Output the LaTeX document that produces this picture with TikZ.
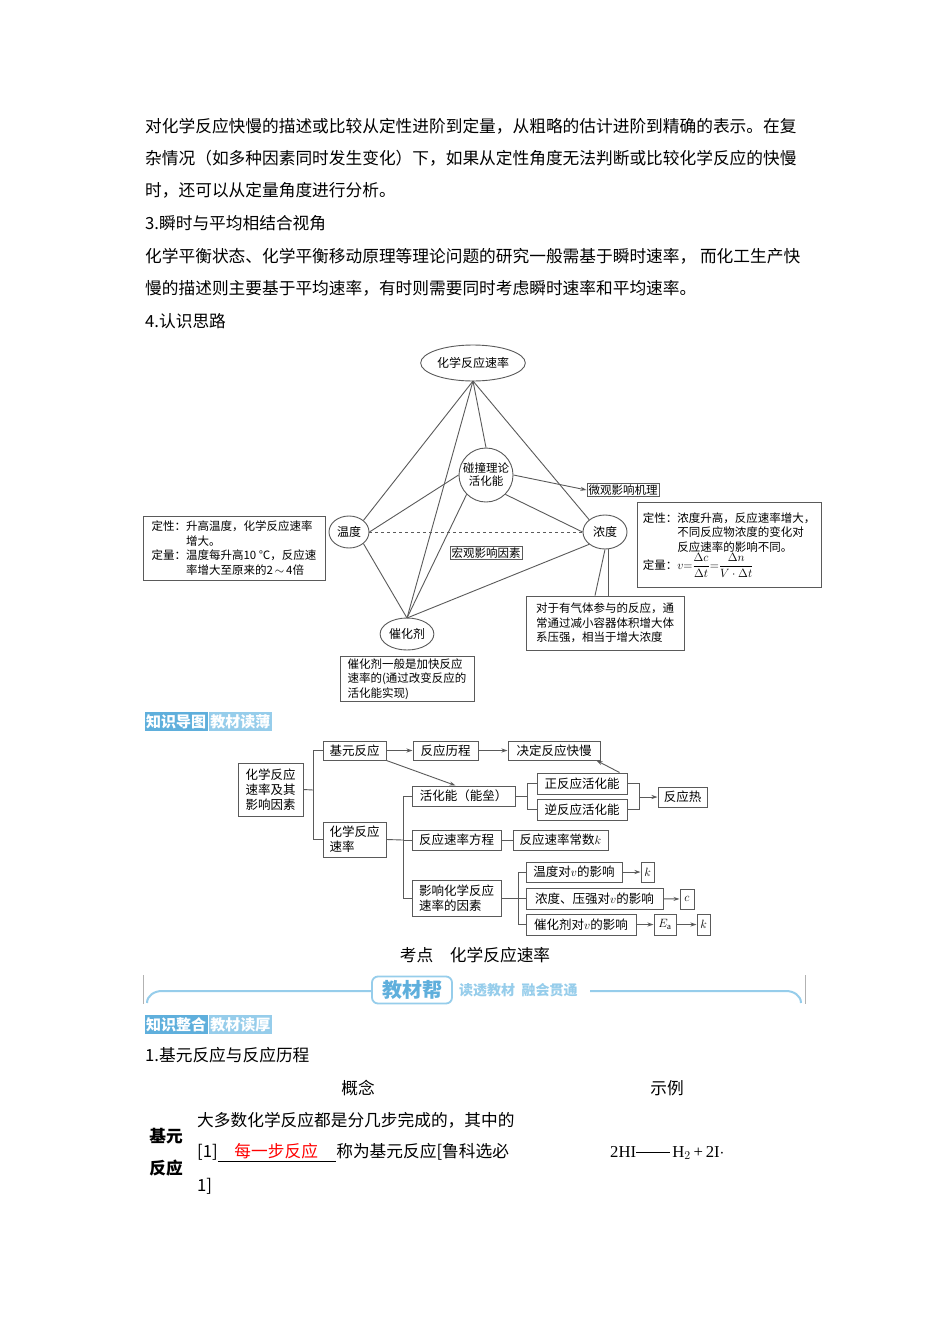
\documentclass[tikz,border=0pt]{standalone}
\usepackage{amsmath}
\usepackage{fontspec}
\setmainfont{Liberation Serif}
\newfontfamily\cjk{Noto Sans CJK SC}
\usetikzlibrary{arrows.meta,shapes.geometric}
\definecolor{bblue}{RGB}{95,175,220}
\definecolor{lblue}{RGB}{150,205,235}
\definecolor{gline}{RGB}{90,90,90}
\tikzset{
 body/.style={anchor=west,inner sep=0,font=\cjk\fontsize{16.7}{16.7}\selectfont},
 el/.style={ellipse,draw=gline,line width=0.9pt,inner sep=1pt,font=\cjk\fontsize{12}{13}\selectfont},
 tb/.style={draw=gline,line width=0.9pt,inner sep=2pt,font=\cjk\fontsize{11.5}{14.5}\selectfont,align=left},
 mb/.style={draw=gline,line width=1pt,inner sep=1pt,font=\cjk\fontsize{12.5}{16}\selectfont,align=left},
 ln/.style={gline,line width=0.9pt},
 ar/.style={gline,line width=0.9pt,-{Stealth[length=6pt,width=4pt]}},
 badge/.style={text=white,inner sep=1.5pt,minimum height=19,font=\cjk\bfseries\fontsize{15}{15}\selectfont},
}
\begin{document}
\begin{tikzpicture}[x=1pt,y=-1pt]
\useasboundingbox[fill=white] (0,0) rectangle (950,1344);
% body text
\node[body] (t1) at (145,126) {对化学反应快慢的描述或比较从定性进阶到定量，从粗略的估计进阶到精确的表示。在复};
\node[body] (t2) at (145,158) {杂情况（如多种因素同时发生变化）下，如果从定性角度无法判断或比较化学反应的快慢};
\node[body] (t3) at (145,190) {时，还可以从定量角度进行分析。};
\node[body] (t4) at (145,223) {3.瞬时与平均相结合视角};
\node[body] (t5) at (145,256) {化学平衡状态、化学平衡移动原理等理论问题的研究一般需基于瞬时速率，\ 而化工生产快};
\node[body] (t6) at (145,288) {慢的描述则主要基于平均速率，有时则需要同时考虑瞬时速率和平均速率。};
\node[body] (t7) at (145,321) {4.认识思路};
% diagram 1
\node[el,minimum width=88,minimum height=36] (rate) at (473,363) {化学反应速率};
\node[el,circle,minimum size=54,inner sep=0pt,align=center,font=\cjk\fontsize{11.5}{13}\selectfont] (coll) at (486,475) {碰撞理论\\活化能};
\node[el,minimum width=40,minimum height=32] (temp) at (349,532) {温度};
\node[el,minimum width=44,minimum height=34] (conc) at (605,532) {浓度};
\node[el,minimum width=52,minimum height=32] (cat) at (407,634) {催化剂};
\node[tb,inner sep=1.5pt] (micro) at (623,490) {微观影响机理};
\node[tb,inner sep=1.5pt] (macro) at (486,553) {宏观影响因素};
\node[tb,minimum width=182,minimum height=64] (lbox) at (234,548) {定性：升高温度，化学反应速率\\\phantom{定性：}增大。\\定量：温度每升高10 ℃，反应速\\\phantom{定性：}率增大至原来的2\,$\sim$\,4倍};
\node[tb,minimum width=184,minimum height=85] (rbox) at (729,545) {定性：浓度升高，反应速率增大，\\\phantom{定性：}不同反应物浓度的变化对\\\phantom{定性：}反应速率的影响不同。\\定量：$v{=}\dfrac{\Delta c}{\Delta t}{=}\dfrac{\Delta n}{V\cdot\Delta t}$};
\node[tb,minimum width=158,minimum height=54] (gbox) at (605,623) {对于有气体参与的反应，通\\常通过减小容器体积增大体\\系压强，相当于增大浓度};
\node[tb,minimum width=134,minimum height=45] (cbox) at (407,679) {催化剂一般是加快反应\\速率的(通过改变反应的\\活化能实现)};
\coordinate (apex) at (473,381);
\coordinate (catt) at (407,618);
\draw[ln] (apex) -- (temp.north east);
\draw[ln] (apex) -- (coll.north);
\draw[ln] (apex) -- (catt);
\draw[ln] (apex) -- (conc.north west);
\draw[ln] (coll.south west) -- (catt);
\draw[ln] (coll.west) -- (temp.east);
\draw[ln] (coll.south east) -- (conc.west);
\draw[ln] (temp.south east) -- (catt);
\draw[ln] (conc.south west) -- (catt);
\draw[ln,dashed] (temp.east) -- (conc.west);
\draw[ar] (coll.east) -- (micro.west);
\draw[ln] (conc.south) -- ([xshift=-10pt]gbox.north);
\draw[ln] ([xshift=3pt]conc.south) -- ([xshift=3pt]gbox.north);
% badge 1
\node[badge,fill=bblue] (b1) at (176,721.5) {知识导图};
\node[badge,fill=lblue,anchor=west] (b2) at ([xshift=1pt]b1.east) {教材读薄};
% mind map
\node[mb,minimum width=65,minimum height=53,font=\cjk\fontsize{12.5}{15}\selectfont] (root) at (270.5,789.5) {化学反应\\速率及其\\影响因素};
\node[mb,minimum width=63,minimum height=19] (jy) at (354.5,750.5) {基元反应};
\node[mb,minimum width=65,minimum height=19] (lc) at (445.5,750.5) {反应历程};
\node[mb,minimum width=92,minimum height=19] (jd) at (554,750.5) {决定反应快慢};
\node[mb,minimum width=103,minimum height=20] (hh) at (463.5,796) {活化能（能垒）};
\node[mb,minimum width=90,minimum height=21] (zh) at (582,783.5) {正反应活化能};
\node[mb,minimum width=90,minimum height=21] (nh) at (582,809.5) {逆反应活化能};
\node[mb,minimum width=49,minimum height=20] (fr) at (682.5,797) {反应热};
\node[mb,minimum width=63,minimum height=35,font=\cjk\fontsize{12.5}{15}\selectfont] (sl) at (354.5,839.5) {化学反应\\速率};
\node[mb,minimum width=89,minimum height=20] (fc) at (456.5,840) {反应速率方程};
\node[mb,minimum width=95,minimum height=20] (cs) at (560.5,840) {反应速率常数$k$};
\node[mb,minimum width=89,minimum height=36,font=\cjk\fontsize{12.5}{15}\selectfont] (ys) at (456.5,898) {影响化学反应\\速率的因素};
\node[mb,minimum width=96,minimum height=20] (wd) at (574,872) {温度对$v$的影响};
\node[mb,minimum width=137,minimum height=21] (nd) at (594.5,898.5) {浓度、压强对$v$的影响};
\node[mb,minimum width=110,minimum height=21] (ch) at (581,924.5) {催化剂对$v$的影响};
\node[mb,minimum width=13,minimum height=20] (k1) at (647.5,872) {$k$};
\node[mb,minimum width=14,minimum height=20] (c1) at (687,899) {$c$};
\node[mb,minimum width=22,minimum height=21] (ea) at (665,924.5) {$E_{\mathrm a}$};
\node[mb,minimum width=13,minimum height=21] (k2) at (703.5,924.5) {$k$};
\coordinate (br1) at (313,790);
\draw[ln] (root.east) -- (br1);
\draw[ln] (br1 |- jy.west) -- (br1 |- sl.west);
\draw[ln] (br1 |- jy.west) -- (jy.west);
\draw[ln] (br1 |- sl.west) -- (sl.west);
\draw[ar] (jy) -- (lc);
\draw[ar] (lc) -- (jd);
\draw[ar] (jy.south east) -- ([xshift=-8pt]hh.north);
\coordinate (br2) at (403,840);
\draw[ln] (sl.east) -- (br2);
\draw[ln] (br2 |- hh.west) -- (br2 |- ys.west);
\draw[ln] (br2 |- hh.west) -- (hh.west);
\draw[ln] (br2) -- (fc.west);
\draw[ln] (br2 |- ys.west) -- (ys.west);
\coordinate (br3) at (527,796);
\draw[ln] (hh.east) -- (br3);
\draw[ln] (br3 |- zh.west) -- (br3 |- nh.west);
\draw[ln] (br3 |- zh.west) -- (zh.west);
\draw[ln] (br3 |- nh.west) -- (nh.west);
\coordinate (br4) at (639,797);
\draw[ln] (zh.east) -- (br4 |- zh.east) -- (br4 |- nh.east) -- (nh.east);
\draw[ar] (br4) -- (fr.west);
\draw[ar] ([xshift=-8pt]zh.north east) -- ([xshift=-4pt]jd.south east);
\draw[ln] (fc) -- (cs);
\coordinate (br5) at (518,898);
\draw[ln] (ys.east) -- (br5);
\draw[ln] (br5 |- wd.west) -- (br5 |- ch.west);
\draw[ln] (br5 |- wd.west) -- (wd.west);
\draw[ln] (br5 |- nd.west) -- (nd.west);
\draw[ln] (br5 |- ch.west) -- (ch.west);
\draw[ar] (wd) -- (k1);
\draw[ar] (nd) -- (c1);
\draw[ar] (ch) -- (ea);
\draw[ar] (ea) -- (k2);
% heading
\node[font=\cjk\fontsize{16.7}{16.7}\selectfont] (kd) at (475,955) {考点\quad 化学反应速率};
% banner
\draw[gray!60,line width=0.6pt] (143,975) -- (143,1004) (805,975) -- (805,1004);
\draw[lblue,line width=2pt] (147,1003) to[out=90,in=180] (162,991) -- (372,991);
\draw[lblue,line width=2pt] (590,991) -- (786,991) to[out=0,in=90] (801,1003);
\node[draw=lblue,line width=1.8pt,rounded corners=6pt,text=bblue,inner sep=2pt,minimum width=80,minimum height=27,font=\cjk\bfseries\fontsize{20}{20}\selectfont] (jcb) at (412,990) {教材帮};
\node[text=lblue,anchor=west,inner sep=0,font=\cjk\bfseries\fontsize{14}{14}\selectfont] (dt) at (459,990) {读透教材\ \ 融会贯通};
% badge 2
\node[badge,fill=bblue] (b3) at (176,1024.5) {知识整合};
\node[badge,fill=lblue,anchor=west] (b4) at ([xshift=1pt]b3.east) {教材读厚};
% table
\node[body] (s1) at (145,1055) {1.基元反应与反应历程};
\node[font=\cjk\fontsize{16.7}{16.7}\selectfont] (gn) at (358,1088) {概念};
\node[font=\cjk\fontsize{16.7}{16.7}\selectfont] (sl2) at (667,1088) {示例};
\node[font=\cjk\bfseries\fontsize{16.7}{16.7}\selectfont] (jy1) at (166,1136) {基元};
\node[font=\cjk\bfseries\fontsize{16.7}{16.7}\selectfont] (jy2) at (166,1168) {反应};
\node[body] (c1l) at (197,1120) {大多数化学反应都是分几步完成的，其中的};
\node[body] (c2l) at (197,1153) {[1]\underline{\hspace{1em}\textcolor{red}{每一步反应}\hspace{1.1em}}称为基元反应[鲁科选必};
\node[body] (c3l) at (197,1186) {1]};
\node[body,font=\fontsize{16.7}{16.7}\selectfont] (ex) at (610,1153) {2HI\rule[0.3em]{2em}{0.5pt}\,H$_2$\,+\,2I$\cdot$};
\end{tikzpicture}
\end{document}
